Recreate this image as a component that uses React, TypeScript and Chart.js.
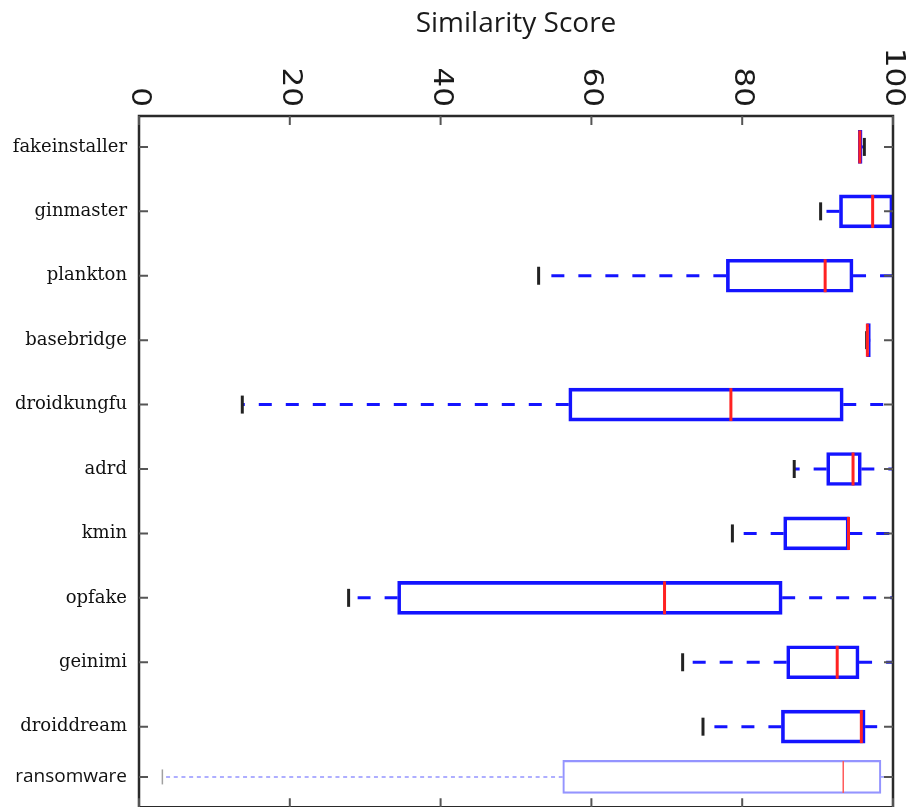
import React, { useEffect, useRef } from 'react';
import { Chart, registerables } from 'chart.js';

Chart.register(...registerables);

// ---- data ----
const categories = [
  'fakeinstaller', 'ginmaster', 'plankton', 'basebridge', 'droidkungfu',
  'adrd', 'kmin', 'opfake', 'geinimi', 'droiddream', 'ransomware',
];
const whiskerLow = [95.4, 90.4, 53.0, 96.5, 13.7, 86.9, 78.7, 27.8, 72.1, 74.8, 3.1];
const q1 = [95.4, 92.9, 77.9, 96.5, 57.0, 91.2, 85.5, 34.3, 85.9, 85.2, 56.2];
const medians = [95.6, 97.3, 91.0, 96.6, 78.5, 94.7, 94.1, 69.7, 92.6, 95.8, 93.4];
const q3 = [95.9, 100, 94.7, 97.0, 93.4, 95.8, 94.2, 85.3, 95.5, 96.3, 98.4];
const whiskerHigh = [96.2, 100, 100, 97.0, 100, 100, 100, 100, 100, 97.9, 99.1];
const capMarks = [96.2, 90.4, 53.0, 96.5, 13.7, 86.9, 78.7, 27.8, 72.1, 74.8, 3.1];
const xMin = 0;
const xMax = 100;
const xStep = 20;
const axisTitle = 'Similarity Score';

// ---- layout / style ----
const LIGHT_ROW = 'ransomware';
const LAST_ROW_GAP = 0.78;
const BOX_THICKNESS = 33;
const rowPositions = categories.map((c, i) => (i === categories.length - 1 ? i + LAST_ROW_GAP : i + 1));
const lightIdx = categories.indexOf(LIGHT_ROW);

const BLUE = '#1414ff';
const LIGHT_BLUE = '#9494ff';
const RED = '#ff2222';
const AXIS = '#2a2a2a';

const boxPlugin = {
  id: 'boxExtras',
  beforeDatasetsDraw(chart: any) {
    const { ctx, scales } = chart;
    const x = scales.x;
    const y = scales.y;
    categories.forEach((c, i) => {
      const light = c === LIGHT_ROW;
      const py = y.getPixelForValue(rowPositions[i]);
      ctx.save();
      ctx.strokeStyle = light ? LIGHT_BLUE : BLUE;
      ctx.lineWidth = light ? 1.5 : 3;
      ctx.setLineDash(light ? [4, 3.7] : [13, 14]);
      ctx.beginPath();
      ctx.moveTo(x.getPixelForValue(q1[i]), py);
      ctx.lineTo(x.getPixelForValue(whiskerLow[i]), py);
      ctx.stroke();
      ctx.beginPath();
      ctx.moveTo(x.getPixelForValue(q3[i]), py);
      ctx.lineTo(x.getPixelForValue(whiskerHigh[i]), py);
      ctx.stroke();
      ctx.setLineDash([]);
      ctx.strokeStyle = light ? '#a0a0a0' : '#222222';
      ctx.lineWidth = light ? 1.5 : 3;
      const h = light ? 15 : 18;
      const cx = x.getPixelForValue(capMarks[i]);
      ctx.beginPath();
      ctx.moveTo(cx, py - h / 2);
      ctx.lineTo(cx, py + h / 2);
      ctx.stroke();
      ctx.restore();
    });
  },
  afterDatasetsDraw(chart: any) {
    const { ctx, scales } = chart;
    const x = scales.x;
    const y = scales.y;
    categories.forEach((c, i) => {
      const light = c === LIGHT_ROW;
      const py = y.getPixelForValue(rowPositions[i]);
      const mx = x.getPixelForValue(medians[i]);
      const h = light ? BOX_THICKNESS - 1 : BOX_THICKNESS;
      ctx.save();
      ctx.strokeStyle = light ? '#ff5a5a' : RED;
      ctx.lineWidth = light ? 1.5 : 3;
      ctx.beginPath();
      ctx.moveTo(mx, py - h / 2);
      ctx.lineTo(mx, py + h / 2);
      ctx.stroke();
      ctx.restore();
    });
  },
  afterDraw(chart: any) {
    const { ctx, chartArea, scales } = chart;
    const x = scales.x;
    const y = scales.y;
    const { left, right, top, bottom } = chartArea;
    ctx.save();
    // frame
    ctx.strokeStyle = AXIS;
    ctx.lineWidth = 2.5;
    ctx.beginPath();
    ctx.moveTo(left, bottom);
    ctx.lineTo(left, top);
    ctx.lineTo(right, top);
    ctx.lineTo(right, bottom);
    ctx.lineTo(left, bottom);
    ctx.stroke();
    // inward ticks
    ctx.strokeStyle = '#555555';
    ctx.lineWidth = 2;
    const tl = 9;
    rowPositions.forEach((v) => {
      const py = y.getPixelForValue(v);
      ctx.beginPath();
      ctx.moveTo(left, py);
      ctx.lineTo(left + tl, py);
      ctx.moveTo(right - tl, py);
      ctx.lineTo(right, py);
      ctx.stroke();
    });
    x.ticks.forEach((t: any) => {
      const px = x.getPixelForValue(t.value);
      ctx.beginPath();
      ctx.moveTo(px, top);
      ctx.lineTo(px, top + tl);
      ctx.moveTo(px, bottom);
      ctx.lineTo(px, bottom - tl);
      ctx.stroke();
    });
    // rotated x tick labels (reading top to bottom)
    ctx.fillStyle = '#1a1a1a';
    ctx.font = '27px "DejaVu Sans"';
    ctx.textAlign = 'right';
    ctx.textBaseline = 'middle';
    x.ticks.forEach((t: any) => {
      const px = x.getPixelForValue(t.value);
      ctx.save();
      ctx.translate(px, top - 9);
      ctx.rotate(Math.PI / 2);
      ctx.scale(1.15, 1);
      ctx.fillText(String(t.value), 0, 0);
      ctx.restore();
    });
    ctx.restore();
  },
};

export default function App() {
  const canvasRef = useRef<HTMLCanvasElement | null>(null);

  useEffect(() => {
    if (!canvasRef.current) return;
    const chart = new Chart(canvasRef.current, {
      type: 'bar',
      data: {
        datasets: [
          {
            data: categories.map((c, i) => ({ x: [q1[i], q3[i]], y: rowPositions[i] })) as any,
            backgroundColor: 'rgba(255,255,255,0)',
            borderColor: categories.map((c) => (c === LIGHT_ROW ? LIGHT_BLUE : BLUE)),
            borderWidth: categories.map((c) => (c === LIGHT_ROW ? 1.5 : 3)),
            borderSkipped: false,
            barThickness: BOX_THICKNESS,
          } as any,
        ],
      },
      options: {
        indexAxis: 'y',
        animation: false,
        responsive: true,
        maintainAspectRatio: false,
        devicePixelRatio: 1,
        layout: { padding: { left: 0, right: 16, top: 0, bottom: 21 } },
        plugins: { legend: { display: false }, tooltip: { enabled: false } },
        scales: {
          x: {
            type: 'linear',
            position: 'top',
            min: xMin,
            max: xMax,
            offset: false,
            ticks: { display: false, stepSize: xStep },
            grid: { display: false, drawTicks: false },
            border: { display: false },
            title: {
              display: true,
              text: axisTitle,
              color: '#1a1a1a',
              font: { family: 'Open Sans', size: 28 },
              padding: { top: 7, bottom: 0 },
            },
            afterFit: (axis: any) => {
              axis.height = 116;
            },
          },
          y: {
            type: 'linear',
            reverse: true,
            min: 0.52,
            max: 11.25,
            offset: false,
            bounds: 'data',
            afterBuildTicks: (axis: any) => {
              axis.ticks = rowPositions.map((v) => ({ value: v }));
            },
            afterFit: (axis: any) => {
              axis.width = 139;
            },
            grid: { display: false, drawTicks: false, offset: false },
            border: { display: false },
            ticks: {
              autoSkip: false,
              padding: 12,
              color: '#111111',
              callback: (_v: any, index: number) => categories[index],
              font: (c: any) =>
                c.index === lightIdx
                  ? { family: 'Open Sans', size: 19 }
                  : { family: 'DejaVu Serif', size: 18 },
            },
          },
        } as any,
      },
      plugins: [boxPlugin],
    });
    return () => chart.destroy();
  }, []);

  return (
    <div
      style={{
        position: 'fixed',
        left: 0,
        top: 0,
        width: 909,
        height: 807,
        overflow: 'hidden',
        background: '#ffffff',
      }}
    >
      <div style={{ position: 'relative', width: 909, height: 830 }}>
        <canvas ref={canvasRef} />
      </div>
    </div>
  );
}
